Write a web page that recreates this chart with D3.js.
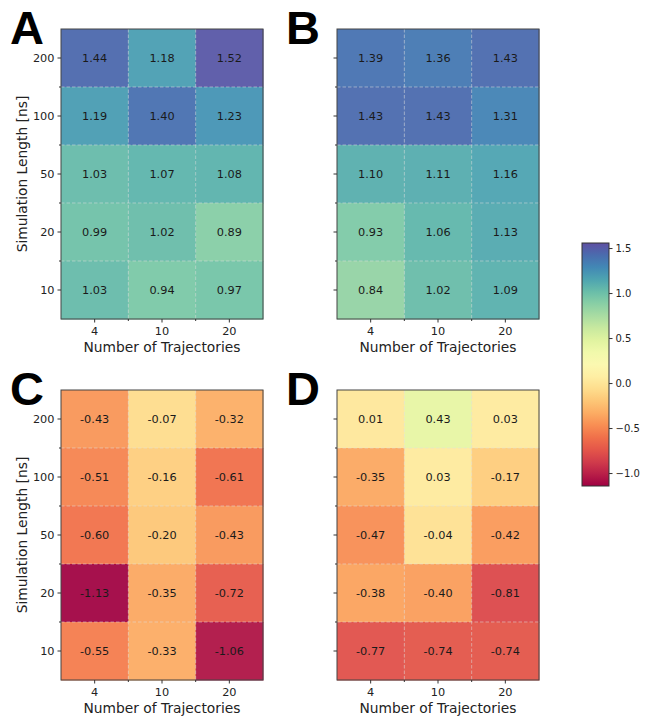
<!DOCTYPE html>
<html><head><meta charset="utf-8">
<script src="https://cdn.jsdelivr.net/npm/d3@7"></script>
<style>body{margin:0;background:#fff}svg{display:block;font-family:"DejaVu Sans",sans-serif}</style>
</head><body>
<script>
const trajectories = ["4", "10", "20"];
const simLengths = ["200", "100", "50", "20", "10"];
const panelA = [[1.44,1.18,1.52],[1.19,1.40,1.23],[1.03,1.07,1.08],[0.99,1.02,0.89],[1.03,0.94,0.97]];
const panelB = [[1.39,1.36,1.43],[1.43,1.43,1.31],[1.10,1.11,1.16],[0.93,1.06,1.13],[0.84,1.02,1.09]];
const panelC = [[-0.43,-0.07,-0.32],[-0.51,-0.16,-0.61],[-0.60,-0.20,-0.43],[-1.13,-0.35,-0.72],[-0.55,-0.33,-1.06]];
const panelD = [[0.01,0.43,0.03],[-0.35,0.03,-0.17],[-0.47,-0.04,-0.42],[-0.38,-0.40,-0.81],[-0.77,-0.74,-0.74]];
const panelLetters = ["A","B","C","D"];
const colorTicks = [1.5, 1.0, 0.5, 0.0, -0.5, -1.0];
const colorRange = [-1.144, 1.556];

const W = 649, H = 723;
const svg = d3.select("body").append("svg").attr("width", W).attr("height", H);
const color = d3.scaleSequential(d3.interpolateSpectral).domain(colorRange);
const fmt = v => v.toFixed(2);

const panels = [
  {data: panelA, x0: 61, y0: 29, showY: true},
  {data: panelB, x0: 337, y0: 29, showY: false},
  {data: panelC, x0: 61, y0: 390, showY: true},
  {data: panelD, x0: 337, y0: 390, showY: false}
];
const pw = 202, ph = 290;

panels.forEach((p, i) => {
  const g = svg.append("g").attr("transform", `translate(${p.x0},${p.y0})`);
  const x = d3.scaleBand().domain(trajectories).range([0, pw]).padding(0);
  const y = d3.scaleBand().domain(simLengths).range([0, ph]).padding(0);
  const cells = [];
  p.data.forEach((row, r) => row.forEach((v, c) => cells.push({r: simLengths[r], c: trajectories[c], v})));
  g.selectAll("rect.cell").data(cells).join("rect").attr("class","cell")
    .attr("x", d => x(d.c)).attr("y", d => y(d.r))
    .attr("width", x.bandwidth()+0.5).attr("height", y.bandwidth()+0.5)
    .attr("fill", d => color(d.v)).attr("fill-opacity", 0.95);
  const gridC = "rgba(225,225,225,0.65)";
  trajectories.slice(1).forEach(t => {
    g.append("line").attr("x1", x(t)).attr("x2", x(t)).attr("y1", 0).attr("y2", ph)
      .attr("stroke", gridC).attr("stroke-width", 0.8).attr("stroke-dasharray", "3.5,2");
  });
  simLengths.slice(1).forEach(s => {
    g.append("line").attr("y1", y(s)).attr("y2", y(s)).attr("x1", 0).attr("x2", pw)
      .attr("stroke", gridC).attr("stroke-width", 0.8).attr("stroke-dasharray", "3.5,2");
  });
  g.selectAll("text.val").data(cells).join("text").attr("class","val")
    .attr("x", d => x(d.c) + x.bandwidth()/2).attr("y", d => y(d.r) + y.bandwidth()/2)
    .attr("text-anchor", "middle").attr("dominant-baseline", "central")
    .attr("font-size", 11.3).attr("fill", "#1a1a1a").text(d => fmt(d.v));
  g.append("rect").attr("width", pw).attr("height", ph).attr("fill", "none")
    .attr("stroke", "#444").attr("stroke-width", 1);
  const xa = g.append("g").attr("transform", `translate(0,${ph})`)
    .call(d3.axisBottom(x).tickSize(3.5).tickPadding(4));
  xa.select(".domain").remove();
  xa.selectAll("line").attr("stroke", "#333");
  xa.selectAll("text").attr("font-size", 11.3).attr("fill", "#222").attr("font-family", "DejaVu Sans");
  trajectories.slice(1).forEach(t => {
    g.append("line").attr("x1", x(t)).attr("x2", x(t)).attr("y1", ph).attr("y2", ph+2).attr("stroke", "#333");
  });
  simLengths.slice(1).forEach(s => {
    g.append("line").attr("y1", y(s)).attr("y2", y(s)).attr("x1", 0).attr("x2", -2).attr("stroke", "#333");
  });
  const ya = g.append("g").call(d3.axisLeft(y).tickSize(3.5).tickPadding(3)
    .tickFormat(p.showY ? (d => d) : (() => "")));
  ya.select(".domain").remove();
  ya.selectAll("line").attr("stroke", "#333");
  ya.selectAll("text").attr("font-size", 11.3).attr("fill", "#222").attr("font-family", "DejaVu Sans");
  g.append("text").attr("x", pw/2).attr("y", ph + 33).attr("text-anchor", "middle")
    .attr("font-size", 13.8).attr("fill", "#222").text("Number of Trajectories");
  if (p.showY) {
    g.append("text").attr("transform", `translate(${-34},${ph/2}) rotate(-90)`)
      .attr("text-anchor", "middle").attr("font-size", 13.8).attr("fill", "#222")
      .text("Simulation Length [ns]");
  }
  svg.append("text").attr("x", p.x0 - 51).attr("y", p.y0 + 15)
    .attr("font-family", "Liberation Sans, Arial, sans-serif").attr("font-weight", "bold")
    .attr("font-size", 47).attr("fill", "#000").text(panelLetters[i]);
});

const cb = {x: 582, y0: 243, y1: 486, w: 27};
const cs = d3.scaleLinear().domain(colorRange).range([cb.y1, cb.y0]);
const defs = svg.append("defs");
const grad = defs.append("linearGradient").attr("id", "cbg").attr("x1", 0).attr("x2", 0).attr("y1", 1).attr("y2", 0);
d3.range(0, 1.0001, 0.05).forEach(t => {
  grad.append("stop").attr("offset", t).attr("stop-color", color(colorRange[0] + t*(colorRange[1]-colorRange[0])));
});
svg.append("rect").attr("x", cb.x).attr("y", cb.y0).attr("width", cb.w).attr("height", cb.y1 - cb.y0)
  .attr("fill", "url(#cbg)").attr("stroke", "#333").attr("stroke-width", 1);
const ca = svg.append("g").attr("transform", `translate(${cb.x + cb.w},0)`)
  .call(d3.axisRight(cs).tickValues(colorTicks).tickSize(3.5).tickPadding(3)
    .tickFormat(d => d3.format(".1f")(d).replace("-", "\u2212")));
ca.select(".domain").remove();
ca.selectAll("line").attr("stroke", "#333");
ca.selectAll("text").attr("font-size", 10).attr("fill", "#222").attr("font-family", "DejaVu Sans");
</script>
</body></html>
